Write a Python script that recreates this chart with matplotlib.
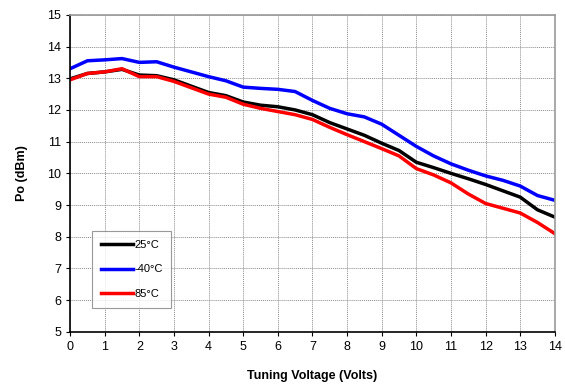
import matplotlib
matplotlib.use("Agg")
import matplotlib.pyplot as plt
import numpy as np

plt.rcParams['font.family'] = ['Liberation Sans', 'DejaVu Sans']

# tuning voltage (V)
volts = np.arange(0, 14.5, 0.5)

po_25 = [12.98, 13.15, 13.2, 13.28, 13.1, 13.08, 12.95, 12.75, 12.55, 12.45,
         12.25, 12.15, 12.1, 12.0, 11.85, 11.6, 11.4, 11.2, 10.95, 10.72,
         10.35, 10.18, 10.0, 9.83, 9.65, 9.45, 9.25, 8.85, 8.62]
po_m40 = [13.3, 13.55, 13.58, 13.62, 13.5, 13.52, 13.35, 13.2, 13.05, 12.92,
          12.72, 12.68, 12.65, 12.58, 12.3, 12.05, 11.88, 11.78, 11.55, 11.2,
          10.85, 10.55, 10.3, 10.1, 9.92, 9.78, 9.6, 9.3, 9.15]
po_85 = [12.95, 13.15, 13.2, 13.3, 13.05, 13.05, 12.9, 12.7, 12.5, 12.4,
         12.18, 12.05, 11.95, 11.85, 11.7, 11.45, 11.22, 11.0, 10.78, 10.55,
         10.15, 9.95, 9.7, 9.35, 9.05, 8.9, 8.75, 8.45, 8.1]

fig = plt.figure(figsize=(5.65, 3.9), dpi=100)
ax = fig.add_axes([0.124, 0.149, 0.858, 0.813])

ax.plot(volts, po_25, color='black', lw=2.5, label='25°C')
ax.plot(volts, po_m40, color='#0000ff', lw=2.5, label='-40°C')
ax.plot(volts, po_85, color='#ff0000', lw=2.5, label='85°C')

ax.set_xlim(0, 14)
ax.set_ylim(5, 15)
ax.set_xticks(range(0, 15))
ax.set_yticks(range(5, 16))
ax.grid(True, color='#8c8c8c', linestyle=(0, (1, 1)), linewidth=0.7)
ax.tick_params(labelsize=9, length=3, direction='out', color='black')

for s in ['top', 'right']:
    ax.spines[s].set_color('#999999')
    ax.spines[s].set_linewidth(1.2)
for s in ['left', 'bottom']:
    ax.spines[s].set_color('black')
    ax.spines[s].set_linewidth(1.2)

ax.set_xlabel('Tuning Voltage (Volts)', fontsize=9, fontweight='bold', labelpad=12)
ax.set_ylabel('Po (dBm)', fontsize=9, fontweight='bold', labelpad=14)

leg = ax.legend(loc='lower left', bbox_to_anchor=(0.045, 0.076), fontsize=8,
                frameon=True, fancybox=False, edgecolor='#808080',
                handlelength=2.9, labelspacing=1.3, borderpad=0.8,
                handletextpad=0.1, borderaxespad=0)
leg.get_frame().set_linewidth(0.8)

fig.savefig('out.png', dpi=100)
